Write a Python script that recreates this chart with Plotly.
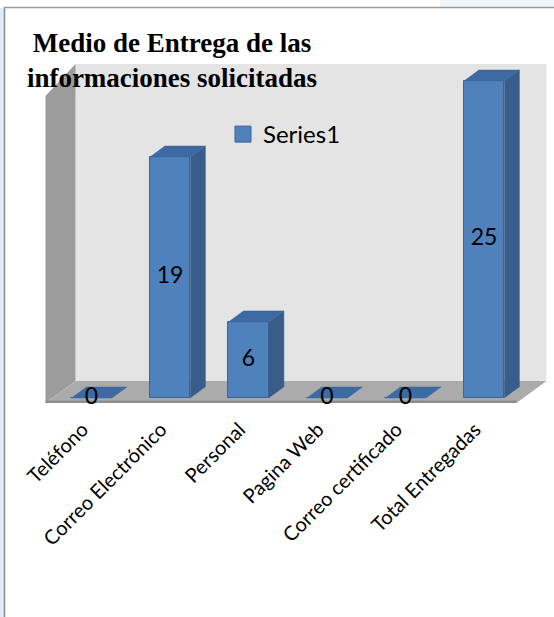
import plotly.graph_objects as go

# Delivery channels and number of requests answered through each
categories = ["Teléfono", "Correo Electrónico", "Personal", "Pagina Web",
              "Correo certificado", "Total Entregadas"]
values = [0, 19, 6, 0, 0, 25]
series_name = "Series1"

FRONT = "#4f81bd"
SIDE = "#385d8a"
TOP = "#3e6aa3"
EDGE = "#3b6596"

H = 617
idx = list(range(len(categories)))

# pseudo-3D depth: one unit of depth shifts right/up in data units
DX, DY = 0.191, 0.867
BAR_W = 0.52


def proj(x, y, z):
    return x + z * DX, y + z * DY


def poly_path(pts):
    return "M " + " L ".join(f"{px},{py}" for px, py in pts) + " Z"


fig = go.Figure()

# front faces of the columns
fig.add_trace(go.Bar(
    x=idx, y=values, width=BAR_W,
    marker=dict(color=FRONT, line=dict(color=EDGE, width=1)),
    showlegend=False, hoverinfo="skip",
))

# side and top faces, built from each value
for i, v in zip(idx, values):
    xl, xr = i - BAR_W / 2, i + BAR_W / 2
    if v > 0:
        side = [(xr, 0), (xr, v), proj(xr, v, 1), proj(xr, 0, 1)]
        fig.add_trace(go.Scatter(
            x=[p[0] for p in side], y=[p[1] for p in side],
            fill="toself", fillcolor=SIDE, mode="lines",
            line=dict(color=SIDE, width=0.5),
            showlegend=False, hoverinfo="skip"))
    top = [(xl, v), (xr, v), proj(xr, v, 1), proj(xl, v, 1)]
    fig.add_trace(go.Scatter(
        x=[p[0] for p in top], y=[p[1] for p in top],
        fill="toself", fillcolor=TOP, mode="lines",
        line=dict(color=EDGE, width=0.5),
        showlegend=False, hoverinfo="skip"))

# value labels in the middle of each column
fig.add_trace(go.Scatter(
    x=idx, y=[v / 2 for v in values], text=[str(v) for v in values],
    mode="text", textposition="middle center",
    textfont=dict(family="Lato", size=23, color="black"),
    cliponaxis=False, showlegend=False, hoverinfo="skip"))

# legend entry for the series
fig.add_trace(go.Scatter(
    x=[None], y=[None], mode="markers", name=series_name,
    marker=dict(symbol="square", size=16, color=FRONT,
                line=dict(color=EDGE, width=1)),
    showlegend=True))

# walls and floor of the 3D box
vmax = max(values)
x0, x1 = -0.5, len(categories) - 0.5
zf, zb = -0.45, 1.55
back = [proj(x0, 0, zb), proj(x1, 0, zb), proj(x1, vmax, zb), proj(x0, vmax, zb)]
left = [proj(x0, 0, zf), proj(x0, 0, zb), proj(x0, vmax, zb),
        proj(x0, vmax - 0.8, zf)]
floor = [proj(x0, 0, zf), proj(x1, 0, zf), proj(x1, 0, zb), proj(x0, 0, zb)]
lip = [proj(x0, 0, zf), proj(x1, 0, zf),
       (proj(x1, 0, zf)[0], -0.2), (proj(x0, 0, zf)[0], -0.2)]

shapes = [
    dict(type="path", path=poly_path(back), fillcolor="#e4e4e4",
         line=dict(width=0), layer="below"),
    dict(type="path", path=poly_path(left), fillcolor="#9c9c9c",
         line=dict(width=0), layer="below"),
    dict(type="path", path=poly_path(floor), fillcolor="#ababab",
         line=dict(width=0), layer="below"),
    dict(type="path", path=poly_path(lip), fillcolor="#8e8e8e",
         line=dict(width=0), layer="below"),
]

# page frame
PLOT_H = 405
def py(ypx):
    return (PLOT_H - ypx) / PLOT_H

shapes += [
    dict(type="rect", xref="paper", yref="paper", x0=0, x1=4 / 554,
         y0=py(H), y1=py(8), fillcolor="#dcecf9", line=dict(width=0)),
    dict(type="rect", xref="paper", yref="paper", x0=440 / 554, x1=1,
         y0=py(7), y1=py(0), fillcolor="#eef5fb", line=dict(width=0)),
    dict(type="line", xref="paper", yref="paper", x0=4.5 / 554, x1=4.5 / 554,
         y0=py(H), y1=py(7), line=dict(color="#8a8a8a", width=1.5)),
    dict(type="line", xref="paper", yref="paper", x0=4 / 554, x1=1,
         y0=py(7.5), y1=py(7.5), line=dict(color="#9a9a9a", width=1.5)),
]

fig.update_layout(
    width=554, height=H,
    margin=dict(l=0, r=0, t=0, b=H - PLOT_H),
    paper_bgcolor="white", plot_bgcolor="rgba(0,0,0,0)",
    shapes=shapes,
    title=dict(
        text="<b>Medio de Entrega de las<br>informaciones solicitadas</b>",
        font=dict(family="Liberation Serif", size=27, color="black"),
        x=172 / 554, xanchor="center", y=1 - 52 / H, yanchor="top"),
    legend=dict(x=223 / 554, y=py(112), xanchor="left", yanchor="top",
                bgcolor="rgba(0,0,0,0)",
                font=dict(family="Lato", size=24, color="black")),
    xaxis=dict(range=[(0 - 91.5) / 78.5, (554 - 91.5) / 78.5],
               tickmode="array", tickvals=idx, ticktext=categories,
               tickangle=-45, ticks="", showgrid=False, zeroline=False,
               showline=False, fixedrange=True,
               ticklabelstandoff=8, ticklabelshift=-9,
               tickfont=dict(family="Lato", size=20, color="black")),
    yaxis=dict(range=[(398 - PLOT_H) / 12.68, 398 / 12.68], visible=False,
               fixedrange=True),
    bargap=0,
)

fig.write_html("out.html")
